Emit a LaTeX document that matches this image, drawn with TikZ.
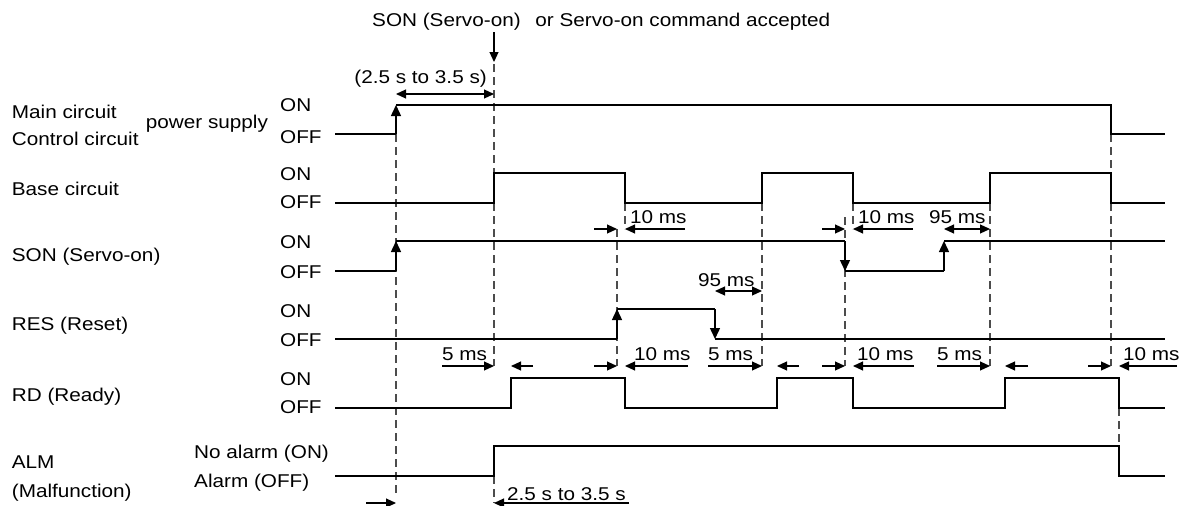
\documentclass[tikz,border=0pt]{standalone}
\usepackage{fontspec}
\setmainfont[FakeStretch=1.12]{Liberation Sans}
\usetikzlibrary{arrows.meta}

\begin{document}
\begin{tikzpicture}[
    x=1pt, y=-1pt,
    font=\fontsize{18.5}{22}\selectfont,
    sig/.style={line width=1.4pt},
    edgearrow/.style={line width=1.4pt, -{Triangle[length=11pt,width=10pt]}},
    guide/.style={draw=black!70, line width=1.1pt, dash pattern=on 8pt off 5pt},
    dim/.style={line width=1.1pt, -{Triangle[length=10pt,width=9pt]}},
    dimboth/.style={line width=1.1pt,
        {Triangle[length=10pt,width=9pt]}-{Triangle[length=10pt,width=9pt]}},
    lbl/.style={anchor=base west, inner sep=0pt}
]
\useasboundingbox (0,0) rectangle (1187,506);

% guide lines
\foreach \x/\ya/\yb in {396/134/497, 494/64/173, 494/203/366, 494/476/503,
    617/229/366, 625/203/229, 762/203/366, 845/217/366, 853/203/229,
    990/203/366, 1111/134/173, 1111/203/366, 1119/408/446}
  \draw[guide] (\x,\ya) -- (\x,\yb);

% signal names
\node[lbl] (mainc) at (11.7,118.3) {Main circuit};
\node[lbl] (ctrlc) at (11.7,145) {Control circuit};
\node[lbl] (psup) at (145.7,128) {power supply};
\node[lbl] (basec) at (11.7,195) {Base circuit};
\node[lbl] (sonl) at (11.7,261.5) {SON (Servo-on)};
\node[lbl] (resl) at (11.7,330) {RES (Reset)};
\node[lbl] (rdl) at (11.7,401) {RD (Ready)};
\node[lbl] (alml) at (11.7,468) {ALM};
\node[lbl] (malf) at (11.7,497) {(Malfunction)};

\node[lbl] (pon) at (280,111.7) {ON};
\node[lbl] (poff) at (280,143) {OFF};
\node[lbl] (bon) at (280,180) {ON};
\node[lbl] (boff) at (280,208.3) {OFF};
\node[lbl] (son) at (280,248.3) {ON};
\node[lbl] (soff) at (280,278.3) {OFF};
\node[lbl] (ron) at (280,317.5) {ON};
\node[lbl] (roff) at (280,346.7) {OFF};
\node[lbl] (rdon) at (280,385) {ON};
\node[lbl] (rdoff) at (280,413.5) {OFF};
\node[lbl] (aon) at (194,458) {No alarm (ON)};
\node[lbl] (aoff) at (194,487) {Alarm (OFF)};

% waveforms
\draw[sig] (335,134) -- (396,134);
\draw[edgearrow] (396,134) -- (396,105);
\draw[sig] (396,105) -- (1111,105) -- (1111,134) -- (1165,134);

\draw[sig] (335,203) -- (494,203) -- (494,173) -- (625,173) -- (625,203)
  -- (762,203) -- (762,173) -- (853,173) -- (853,203) -- (990,203)
  -- (990,173) -- (1111,173) -- (1111,203) -- (1165,203);

\draw[sig] (335,271) -- (396,271);
\draw[edgearrow] (396,271) -- (396,241);
\draw[sig] (396,241) -- (845,241);
\draw[edgearrow] (845,241) -- (845,271);
\draw[sig] (845,271) -- (944,271);
\draw[edgearrow] (944,271) -- (944,241);
\draw[sig] (944,241) -- (1165,241);

\draw[sig] (335,339) -- (617,339);
\draw[edgearrow] (617,339) -- (617,309);
\draw[sig] (617,309) -- (715,309);
\draw[edgearrow] (715,309) -- (715,339);
\draw[sig] (715,339) -- (1165,339);

\draw[sig] (335,408) -- (511,408) -- (511,378) -- (625,378) -- (625,408)
  -- (777,408) -- (777,378) -- (853,378) -- (853,408) -- (1005,408)
  -- (1005,378) -- (1119,378) -- (1119,408) -- (1165,408);

\draw[sig] (335,476) -- (494,476) -- (494,446) -- (1119,446) -- (1119,476)
  -- (1165,476);

% command arrow
\node[lbl] (cmd) at (372,26)
  {SON (Servo-on)\hspace{9pt} or Servo-on command accepted};
\draw[dim] (494,32) -- (494,62);

% timings
\node[anchor=base east, inner sep=0pt] (tpow) at (487,83) {(2.5 s to 3.5 s)};
\draw[dimboth] (396,94) -- (494,94);

\node[lbl] (tb1) at (630,223) {10 ms};
\draw[dim] (594,229) -- (617,229);
\draw[dim] (685,229) -- (625,229);
\node[lbl] (tb2) at (858,223) {10 ms};
\draw[dim] (822,229) -- (845,229);
\draw[dim] (913,229) -- (853,229);
\node[lbl] (ts1) at (929,223) {95 ms};
\draw[dimboth] (944,229) -- (990,229);
\node[lbl] (tr1) at (698,286) {95 ms};
\draw[dimboth] (715,291) -- (762,291);

\node[lbl] (td1) at (442,360) {5 ms};
\draw[dim] (442,366) -- (494,366);
\draw[dim] (533,366) -- (511,366);
\node[lbl] (td2) at (634,360) {10 ms};
\draw[dim] (594,366) -- (617,366);
\draw[dim] (688,366) -- (625,366);
\node[lbl] (td3) at (708,360) {5 ms};
\draw[dim] (708,366) -- (762,366);
\draw[dim] (799,366) -- (777,366);
\node[lbl] (td4) at (857,360) {10 ms};
\draw[dim] (822,366) -- (845,366);
\draw[dim] (914,366) -- (853,366);
\node[lbl] (td5) at (937,360) {5 ms};
\draw[dim] (937,366) -- (990,366);
\draw[dim] (1028,366) -- (1005,366);
\node[lbl] (td6) at (1123,360) {10 ms};
\draw[dim] (1088,366) -- (1111,366);
\draw[dim] (1177,366) -- (1119,366);

\node[lbl] (talm) at (507,500) {2.5 s to 3.5 s};
\draw[dim] (366,503) -- (396,503);
\draw[dim] (629,503) -- (494,503);
\end{tikzpicture}
\end{document}
